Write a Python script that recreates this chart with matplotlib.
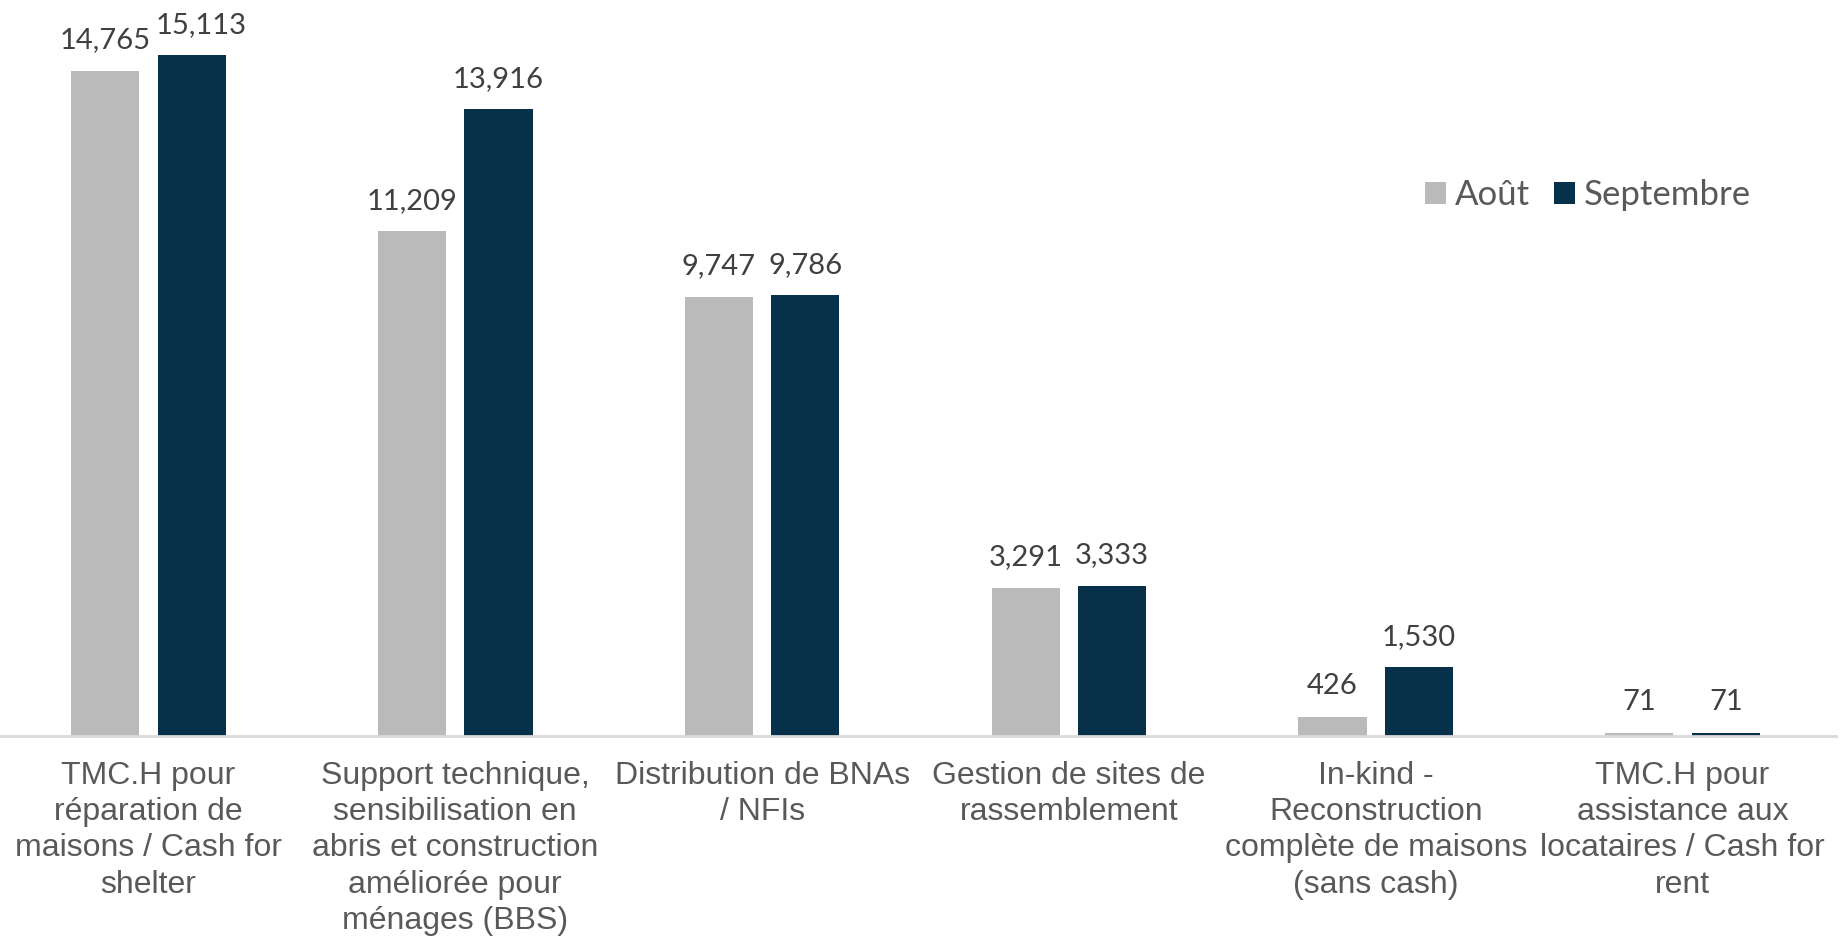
import numpy as np
import matplotlib.pyplot as plt

categories = [
    "TMC.H pour\nréparation de\nmaisons / Cash for\nshelter",
    "Support technique,\nsensibilisation en\nabris et construction\naméliorée pour\nménages (BBS)",
    "Distribution de BNAs\n/ NFIs",
    "Gestion de sites de\nrassemblement",
    "In-kind -\nReconstruction\ncomplète de maisons\n(sans cash)",
    "TMC.H pour\nassistance aux\nlocataires / Cash for\nrent",
]
aout = [14765, 11209, 9747, 3291, 426, 71]
septembre = [15113, 13916, 9786, 3333, 1530, 71]

c_aout = '#BABABA'
c_sept = '#07304A'
label_font = ['Lato', 'DejaVu Sans']
tick_font = ['Liberation Sans', 'DejaVu Sans']

fig = plt.figure(figsize=(18.41, 9.39), dpi=100)
# axes: baseline at y=736 of 939, top at figure top
ax = fig.add_axes([-5 / 1841, 1 - 736 / 939, 1.0, 736 / 939])

x = np.arange(len(categories))
w = 0.222
off = 0.141
b1 = ax.bar(x - off, aout, w, color=c_aout, label='Août')
b2 = ax.bar(x + off, septembre, w, color=c_sept, label='Septembre')

ax.set_xlim(-0.5, len(categories) - 0.5)
ax.set_ylim(0, 16334)

for bars, vals, series in ((b1, aout, 0), (b2, septembre, 1)):
    for i, (r, v) in enumerate(zip(bars, vals)):
        # the reference nudges the first Septembre label right to avoid overlap
        dx = 7 if (series == 1 and i == 0) else 0
        ax.annotate(f'{v:,}', (r.get_x() + r.get_width() / 2, v),
                    xytext=(dx, 12.5), textcoords='offset points',
                    ha='center', va='bottom', fontsize=21,
                    color='#404040', family=label_font)

ax.set_xticks(x)
ax.set_xticklabels(categories, fontsize=23, color='#595959',
                   family=tick_font, linespacing=1.27)
ax.tick_params(axis='x', length=0, pad=18)
ax.set_yticks([])
for s in ('top', 'right', 'left'):
    ax.spines[s].set_visible(False)
ax.spines['bottom'].set_color('#D9D9D9')
ax.spines['bottom'].set_linewidth(2)

leg = ax.legend(loc='center', bbox_to_anchor=(1593 / 1841, 1 - 195 / 736),
                ncol=2, frameon=False, handlelength=0.6, handleheight=0.6,
                handletextpad=0.25, columnspacing=0.69,
                prop={'family': label_font, 'size': 25})
for t in leg.get_texts():
    t.set_color('#595959')

fig.savefig('out.png', dpi=100)
